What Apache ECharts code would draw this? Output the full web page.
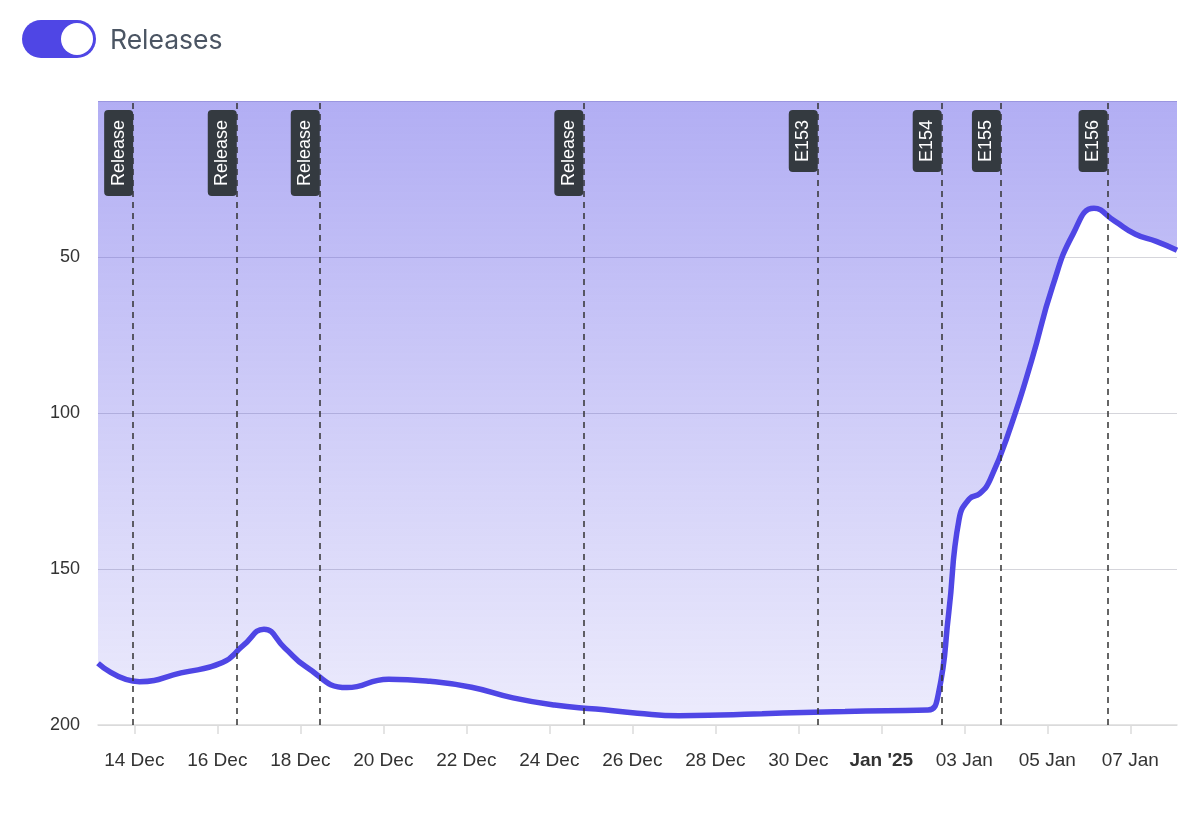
<!DOCTYPE html>
<html>
<head>
<meta charset="utf-8">
<script src="https://cdn.jsdelivr.net/npm/echarts@6/dist/echarts.min.js"></script>
<style>
  html, body { margin: 0; padding: 0; background: #fff; }
  #wrap { position: relative; width: 1200px; height: 819px; }
  #chart { position: absolute; left: 0; top: 0; width: 1200px; height: 819px; }
  #toggle { position: absolute; left: 22px; top: 20px; width: 74px; height: 38px; border-radius: 19px; background: #4f46e5; }
  #knob { position: absolute; right: 3px; top: 3px; width: 32px; height: 32px; border-radius: 50%; background: #fff; }
  #tlabel { position: absolute; left: 110px; top: 21px; font-family: Inter, "Noto Sans", sans-serif; font-size: 26.5px; color: #4b5563; line-height: 36px; }
</style>
</head>
<body>
<div id="wrap">
  <div id="chart"></div>
  <div id="toggle"><div id="knob"></div></div>
  <div id="tlabel">Releases</div>
</div>
<script>
// ---- data ----
const dataDates = [
  '2024-12-13T03:00Z','2024-12-14T03:00Z','2024-12-15T03:00Z','2024-12-16T03:00Z',
  '2024-12-16T15:00Z','2024-12-17T03:00Z','2024-12-17T15:00Z',
  '2024-12-18T03:00Z','2024-12-19T03:00Z','2024-12-20T03:00Z',
  '2024-12-21T03:00Z','2024-12-22T03:00Z','2024-12-23T03:00Z','2024-12-24T03:00Z',
  '2024-12-25T03:00Z','2024-12-26T03:00Z','2024-12-27T03:00Z','2024-12-28T03:00Z',
  '2024-12-29T03:00Z','2024-12-30T03:00Z','2024-12-31T03:00Z','2025-01-01T03:00Z',
  '2025-01-02T03:00Z','2025-01-02T09:00Z','2025-01-02T15:00Z','2025-01-02T21:00Z',
  '2025-01-03T03:00Z','2025-01-03T09:00Z','2025-01-03T15:00Z','2025-01-04T03:00Z',
  '2025-01-04T15:00Z','2025-01-05T03:00Z','2025-01-05T15:00Z','2025-01-06T03:00Z',
  '2025-01-06T15:00Z','2025-01-07T03:00Z','2025-01-07T15:00Z','2025-01-08T03:00Z'
];
const rankValues = [
  180.2, 186.1, 183.3, 180.0,
  174.5, 169.3, 175.3,
  181.2, 188.0, 185.3,
  186.0, 187.9, 191.3, 193.6,
  194.9, 196.2, 197.0, 196.8,
  196.4, 196.0, 195.7, 195.4,
  195.2, 190.0, 164.0, 134.0,
  127.5, 125.8, 121.3, 104.1,
  83.0, 59.5, 42.5, 34.4,
  38.5, 42.7, 45.0, 47.8
];
const tickDates = [
  '2024-12-14T00:00Z','2024-12-16T00:00Z','2024-12-18T00:00Z','2024-12-20T00:00Z','2024-12-22T00:00Z',
  '2024-12-24T00:00Z','2024-12-26T00:00Z','2024-12-28T00:00Z','2024-12-30T00:00Z','2025-01-01T00:00Z',
  '2025-01-03T00:00Z','2025-01-05T00:00Z','2025-01-07T00:00Z'
];
const tickLabels = [
  '14 Dec','16 Dec','18 Dec','20 Dec','22 Dec','24 Dec','26 Dec','28 Dec','30 Dec',"Jan '25",'03 Jan','05 Jan','07 Jan'
];
const boldTick = "Jan '25";
const releaseDates = [
  '2024-12-13T23:20Z','2024-12-16T11:15Z','2024-12-18T11:15Z','2024-12-24T19:40Z',
  '2024-12-30T11:15Z','2025-01-02T10:55Z','2025-01-03T21:10Z','2025-01-06T10:50Z'
];
const releaseNames = ['Release','Release','Release','Release','E153','E154','E155','E156'];
const yTicks = [0, 50, 100, 150, 200];

// ---- build ----
const ts = s => new Date(s).getTime();
const seriesData = dataDates.map((d, i) => [ts(d), rankValues[i]]);
const tickVals = tickDates.map(ts);
const yMin = yTicks[0], yMax = yTicks[yTicks.length - 1];
const markData = releaseDates.map((d, i) => [
  { xAxis: ts(d), yAxis: yMax, label: { formatter: releaseNames[i] } },
  { xAxis: ts(d), yAxis: yMin }
]);

const chart = echarts.init(document.getElementById('chart'), null, { renderer: 'canvas' });
chart.setOption({
  animation: false,
  textStyle: { fontFamily: '"Liberation Sans", Arial, Helvetica, sans-serif' },
  grid: { left: 98, right: 23, top: 101, bottom: 94 },
  xAxis: {
    type: 'value',
    min: ts(dataDates[0]),
    max: ts(dataDates[dataDates.length - 1]),
    axisLine: { onZero: false, lineStyle: { color: '#dcdcdc', width: 1.5 } },
    axisTick: { show: true, length: 9, lineStyle: { color: '#dcdcdc', width: 1.5 }, customValues: tickVals },
    splitLine: { show: false },
    axisLabel: {
      customValues: tickVals,
      margin: 26,
      fontSize: 19,
      color: '#333',
      formatter: v => {
        const i = tickVals.indexOf(v);
        const t = i >= 0 ? tickLabels[i] : '';
        return t === boldTick ? '{b|' + t + '}' : t;
      },
      rich: { b: { fontWeight: 'bold', fontSize: 19, color: '#333' } }
    }
  },
  yAxis: {
    type: 'value',
    inverse: true,
    min: yMin,
    max: yMax,
    interval: yTicks[1] - yTicks[0],
    axisLine: { show: false },
    axisTick: { show: false },
    axisLabel: { showMinLabel: false, fontSize: 18, color: '#333', margin: 18 },
    splitLine: { lineStyle: { color: 'rgba(150,150,165,0.4)', width: 1.2 } }
  },
  series: [{
    type: 'line',
    data: seriesData,
    smooth: 0.5,
    showSymbol: false,
    lineStyle: { color: '#4f46e5', width: 5.5 },
    itemStyle: { color: '#4f46e5' },
    areaStyle: {
      opacity: 1,
      color: new echarts.graphic.LinearGradient(0, 0, 0, 1, [
        { offset: 0, color: 'rgba(79,70,229,0.44)' },
        { offset: 1, color: 'rgba(79,70,229,0.11)' }
      ])
    },
    markLine: {
      silent: true,
      symbol: ['none', 'none'],
      animation: false,
      lineStyle: { color: '#333', width: 1.5, type: [6, 5] },
      label: {
        show: true,
        position: 'insideEndTop',
        distance: [9, 0],
        color: '#fff',
        fontSize: 18,
        lineHeight: 19,
        backgroundColor: '#343a40',
        borderRadius: 4,
        padding: [5, 10]
      },
      data: markData
    }
  }]
});
</script>
</body>
</html>
